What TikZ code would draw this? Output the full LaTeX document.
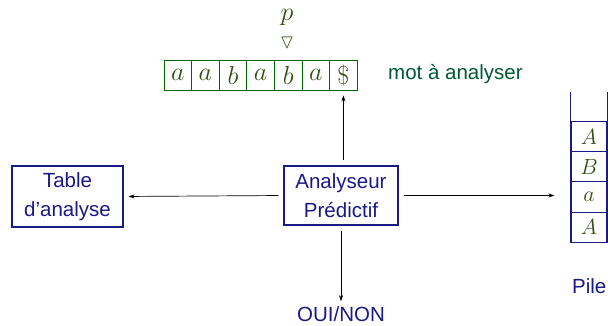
\RequirePackage{fix-cm}
\documentclass[tikz,border=0pt]{standalone}
\usepackage{amssymb}
\usepackage{fontspec}
\setmainfont{Liberation Sans}
\usetikzlibrary{arrows.meta,positioning}

\definecolor{boxblue}{RGB}{25,25,135}
\definecolor{tapegreen}{RGB}{0,100,0}
\definecolor{motgreen}{RGB}{0,90,50}
\definecolor{lettergreen}{RGB}{50,80,20}

\begin{document}
\begin{tikzpicture}[
    x=1pt, y=1pt,
    box/.style={draw=boxblue, line width=1.1pt, align=center, text=boxblue,
      minimum height=59pt, minimum width=114pt, inner sep=0pt,
      font=\fontsize{20.5}{29}\selectfont},
    cell/.style={draw=tapegreen, line width=0.9pt, minimum width=27.6pt,
      minimum height=30pt, inner sep=0pt, text=lettergreen,
      font=\fontsize{26}{26}\selectfont},
    stackcell/.style={draw=boxblue, line width=1.1pt, minimum width=36pt,
      minimum height=30.3pt, inner sep=0pt, text=lettergreen,
      font=\fontsize{22}{22}\selectfont},
    txt/.style={inner sep=0pt, font=\fontsize{20.5}{24}\selectfont},
    arrow/.style={-{Stealth[length=6pt,width=4pt]}, line width=0.7pt,
      shorten <=5pt, shorten >=5pt}
  ]
    \useasboundingbox (0,0) rectangle (608,326);

    % input tape
    \foreach \l [count=\i] in {a,a,b,a,b,a,\$}
      \node[cell] (c\i) at ({164+27.6*(\i-0.5)},251) {$\l$};
    \node[txt, text=lettergreen, font=\fontsize{26}{26}\selectfont] (p) at (287,309) {$p$};
    \node[txt, text=lettergreen, font=\fontsize{20}{20}\selectfont] (head) at (287,283) {$\triangledown$};
    \node[txt, text=motgreen, anchor=west] (mot) at (388,252) {mot à analyser};

    % boxes
    \node[box] (analyseur) at (341,130.5) {Analyseur\\Prédictif};
    \node[box, minimum width=111pt, minimum height=61pt] (table) at (67.5,129.5) {Table\\d’analyse};

    % stack
    \foreach \l [count=\i] in {A,B,a,A}
      \node[stackcell] (s\i) at (589,{189.5-30.3*(\i-1)}) {$\l$};
    \draw[boxblue, line width=1.1pt] (s1.north west) -- ++(0,29)
      (s1.north east) -- ++(0,29);
    \node[txt, text=boxblue, anchor=west] (pile) at (572,40) {Pile};

    \node[txt, text=boxblue] (ouinon) at (341,12) {OUI/NON};

    \draw[arrow] (c7.south |- analyseur.north) -- (c7.south);
    \draw[arrow] (analyseur.west) -- (table.east);
    \draw[arrow, shorten >=16pt] (analyseur.east) -- (analyseur.east -| s3.west);
    \draw[arrow] (analyseur.south) -- (ouinon.north);
  \end{tikzpicture}
\end{document}
